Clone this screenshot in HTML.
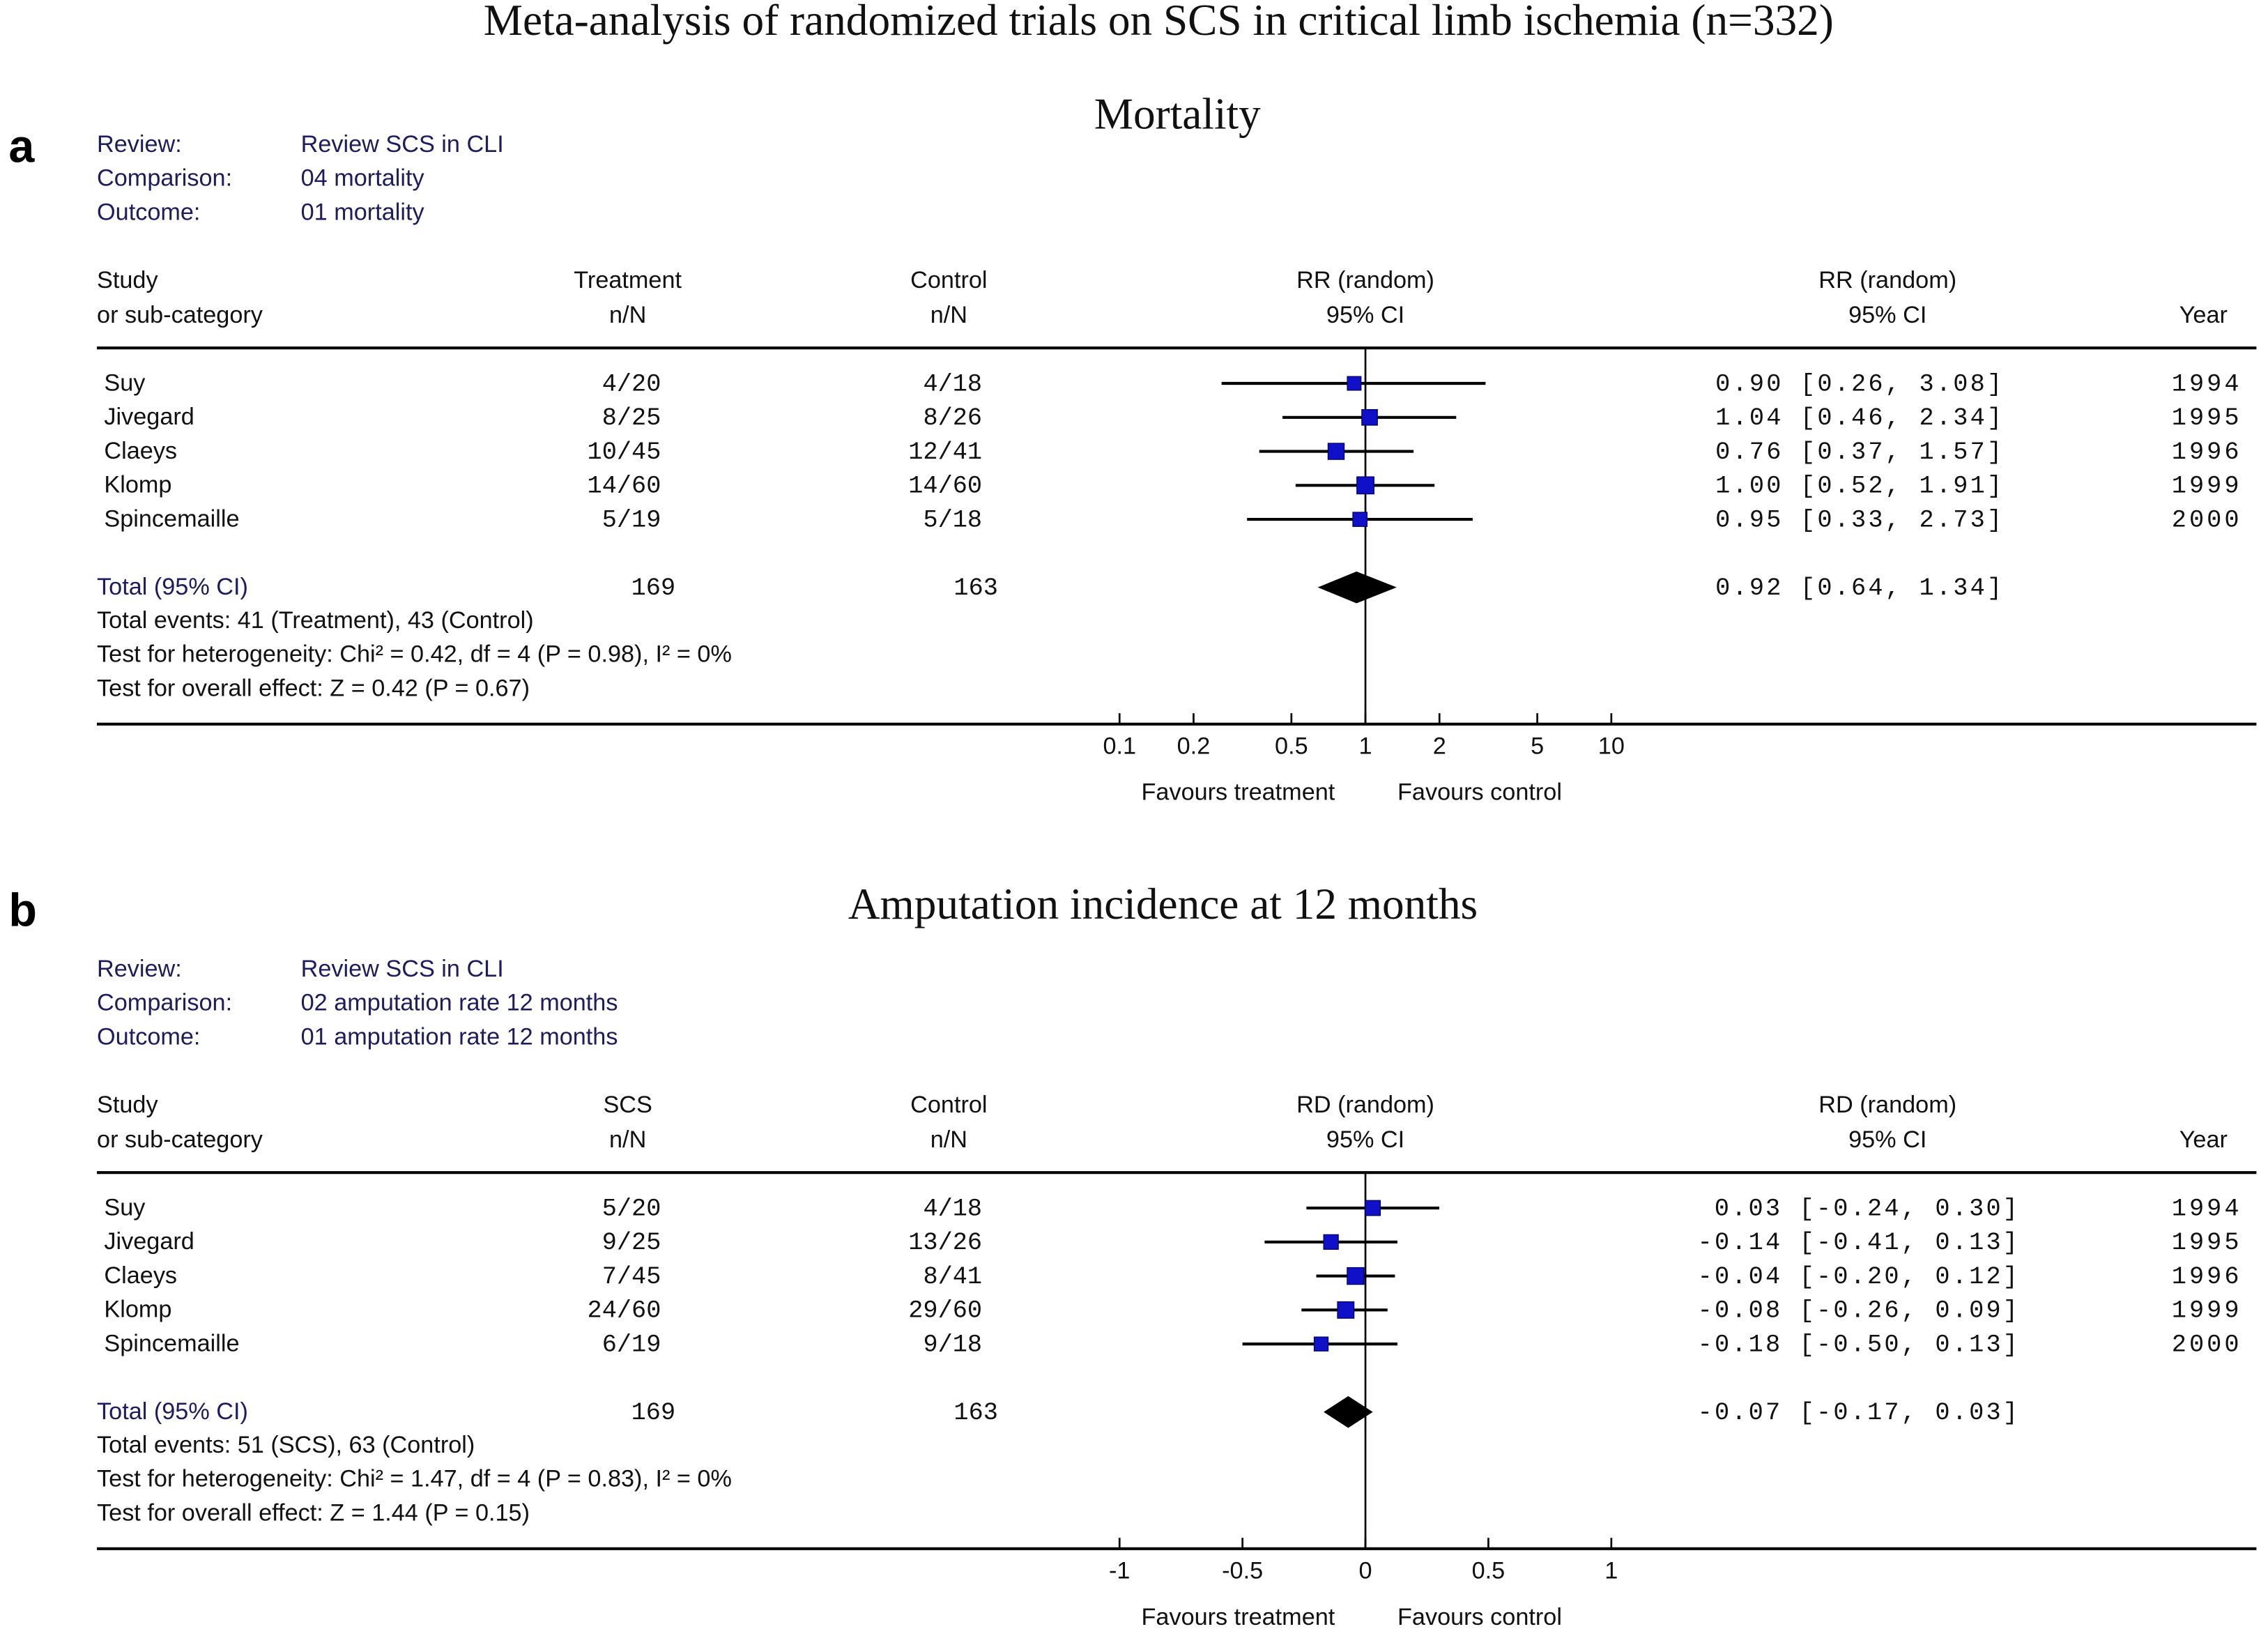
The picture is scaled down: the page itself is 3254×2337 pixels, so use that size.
<!DOCTYPE html>
<html><head><meta charset="utf-8">
<style>
html,body{margin:0;padding:0;background:#fff;}
svg{display:block;}
.s{font-family:"Liberation Sans",sans-serif;font-size:16.5px;fill:#111;}
.n{fill:#1c1c5e;}
.m{font-family:"Liberation Mono",monospace;font-size:17px;fill:#111;}
.t{font-family:"Liberation Serif",serif;font-size:30.5px;fill:#111;}
</style></head>
<body>
<svg id="chart" width="3254" height="2337" viewBox="0 0 1568 1126" preserveAspectRatio="none" xmlns="http://www.w3.org/2000/svg">
<text class="t" x="801" y="24" text-anchor="middle">Meta-analysis of randomized trials on SCS in critical limb ischemia (n=332)</text>
<g id="panels"></g>
</svg>
<script>
// Panel a: mortality (RR, log scale)
const studies = ["Suy","Jivegard","Claeys","Klomp","Spincemaille"];
const years = ["1994","1995","1996","1999","2000"];
const aTreat = ["4/20","8/25","10/45","14/60","5/19"];
const aCtrl = ["4/18","8/26","12/41","14/60","5/18"];
const aEst = [0.90,1.04,0.76,1.00,0.95];
const aLo = [0.26,0.46,0.37,0.52,0.33];
const aHi = [3.08,2.34,1.57,1.91,2.73];
const aWeight = [10,19,22,28,12];
const aTotal = [0.92,0.64,1.34];
const aTicks = [0.1,0.2,0.5,1,2,5,10];
const aTickLabels = ["0.1","0.2","0.5","1","2","5","10"];
// Panel b: amputation (RD, linear)
const bTreat = ["5/20","9/25","7/45","24/60","6/19"];
const bCtrl = ["4/18","13/26","8/41","29/60","9/18"];
const bEst = [0.03,-0.14,-0.04,-0.08,-0.18];
const bLo = [-0.24,-0.41,-0.20,-0.26,-0.50];
const bHi = [0.30,0.13,0.12,0.09,0.13];
const bWeight = [16,14,26,24,11];
const bTotal = [-0.07,-0.17,0.03];
const bTicks = [-1,-0.5,0,0.5,1];
const bTickLabels = ["-1","-0.5","0","0.5","1"];

const NS="http://www.w3.org/2000/svg";
const root=document.getElementById('panels');
function mk(tag,attrs,parent,txt){const e=document.createElementNS(NS,tag);for(const k in attrs)e.setAttribute(k,attrs[k]);if(txt!==undefined)e.textContent=txt;(parent||root).appendChild(e);return e;}
function fmt(v){return (v<0?"-":"")+Math.abs(v).toFixed(2);}
function ciStr(e,l,h){return fmt(e)+" ["+fmt(l)+", "+fmt(h)+"]";}
const CW=11.65;

function panel(o){
  const g=mk('g',{});
  
  
  const oy=o.oy;
  let e;
  e=mk('text',{x:6,y:o.letterY,'font-family':'Liberation Sans,sans-serif','font-size':32,'font-weight':'bold',fill:'#000'},g,o.letter);
  
  e=mk('text',{class:'t',x:o.titleX,y:o.titleY,'text-anchor':'middle'},g,o.title);
  
  const info=[["Review:","Review SCS in CLI"],["Comparison:",o.comp],["Outcome:",o.outc]];
  info.forEach((r,i)=>{
    e=mk('text',{class:'s n',x:67,y:105+oy+i*23.5},g,r[0]);
    e=mk('text',{class:'s n',x:208,y:105+oy+i*23.5},g,r[1]);
  });
  const hdr=[[67,'start',"Study","or sub-category"],[434,'middle',o.tLab,"n/N"],[656,'middle',"Control","n/N"],[944,'middle',o.meas+" (random)","95% CI"],[1305,'middle',o.meas+" (random)","95% CI"]];
  hdr.forEach(h=>{
    e=mk('text',{class:'s',x:h[0],y:199+oy,'text-anchor':h[1]},g,h[2]);
    e=mk('text',{class:'s',x:h[0],y:223+oy,'text-anchor':h[1]},g,h[3]);
  });
  e=mk('text',{class:'s',x:1540,y:223+oy,'text-anchor':'end'},g,"Year");
  e=mk('line',{x1:67,x2:1560,y1:240.5+oy,y2:240.5+oy,stroke:'#000','stroke-width':2},g);
  e=mk('line',{x1:67,x2:1560,y1:500.5+oy,y2:500.5+oy,stroke:'#000','stroke-width':2},g);
  const x0=o.sx(o.nullV);
  e=mk('line',{x1:x0,x2:x0,y1:240+oy,y2:500+oy,stroke:'#000','stroke-width':1.3},g);
  o.ticks.forEach((t,i)=>{
    const x=o.sx(t);
    e=mk('line',{x1:x,x2:x,y1:493+oy,y2:500+oy,stroke:'#000','stroke-width':1.3},g);
    e=mk('text',{class:'s',x:x,y:521+oy,'text-anchor':'middle'},g,o.tickLabels[i]);
  });
  e=mk('text',{class:'s',x:856,y:553+oy,'text-anchor':'middle'},g,"Favours treatment");
  e=mk('text',{class:'s',x:1023,y:553+oy,'text-anchor':'middle'},g,"Favours control");
  studies.forEach((s,i)=>{
    const y=270+oy+i*23.5;
    e=mk('text',{class:'s',x:72,y:y},g,s);
    e=mk('text',{class:'m',x:457,y:y,'text-anchor':'end'},g,o.treat[i]);
    e=mk('text',{class:'m',x:679,y:y,'text-anchor':'end'},g,o.ctrl[i]);
    const str=ciStr(o.est[i],o.lo[i],o.hi[i]);
    e=mk('text',{class:'m',x:o.ciEnd,y:y,'text-anchor':'end',textLength:str.length*CW,lengthAdjust:'spacing'},g,str);
    e=mk('text',{class:'m',x:1548,y:y,'text-anchor':'end',textLength:4*CW,lengthAdjust:'spacing'},g,years[i]);
    const cy=y-5;
    e=mk('line',{x1:o.sx(o.lo[i]),x2:o.sx(o.hi[i]),y1:cy,y2:cy,stroke:'#000','stroke-width':2},g);
    const sz=6+Math.sqrt(o.w[i])*1.1;
    e=mk('rect',{x:o.sx(o.est[i])-sz/2,y:cy-sz/2,width:sz,height:sz,fill:'#1010c8',stroke:'#000060','stroke-width':0.6},g);
  });
  const ty=411+oy;
  e=mk('text',{class:'s n',x:67,y:ty},g,"Total (95% CI)");
  e=mk('text',{class:'m n',x:467,y:ty,'text-anchor':'end'},g,"169");
  e=mk('text',{class:'m n',x:690,y:ty,'text-anchor':'end'},g,"163");
  const ts=ciStr(o.total[0],o.total[1],o.total[2]);
  e=mk('text',{class:'m n',x:o.ciEnd,y:ty,'text-anchor':'end',textLength:ts.length*CW,lengthAdjust:'spacing'},g,ts);
  const dy=ty-5,xl=o.sx(o.total[1]),xr=o.sx(o.total[2]),xc=o.sx(o.total[0]);
  e=mk('polygon',{points:`${xl},${dy} ${xc},${dy-11} ${xr},${dy} ${xc},${dy+11}`,fill:'#000'},g);
  o.lines.forEach((l,i)=>{
    e=mk('text',{class:'s',x:67,y:434+oy+i*23.5},g,l);
  });
}
panel({name:'panel-a-mortality',oy:0,letter:'a',letterY:112,title:'Mortality',titleX:814,titleY:89,comp:'04 mortality',outc:'01 mortality',tLab:'Treatment',meas:'RR',
  sx:v=>944+170*Math.log10(v),nullV:1,ticks:aTicks,tickLabels:aTickLabels,treat:aTreat,ctrl:aCtrl,est:aEst,lo:aLo,hi:aHi,w:aWeight,total:aTotal,ciEnd:1384,
  lines:["Total events: 41 (Treatment), 43 (Control)","Test for heterogeneity: Chi² = 0.42, df = 4 (P = 0.98), I² = 0%","Test for overall effect: Z = 0.42 (P = 0.67)"]});
panel({name:'panel-b-amputation',oy:570,letter:'b',letterY:640,title:'Amputation incidence at 12 months',titleX:804,titleY:635,comp:'02 amputation rate 12 months',outc:'01 amputation rate 12 months',tLab:'SCS',meas:'RD',
  sx:v=>944+170*v,nullV:0,ticks:bTicks,tickLabels:bTickLabels,treat:bTreat,ctrl:bCtrl,est:bEst,lo:bLo,hi:bHi,w:bWeight,total:bTotal,ciEnd:1395,
  lines:["Total events: 51 (SCS), 63 (Control)","Test for heterogeneity: Chi² = 1.47, df = 4 (P = 0.83), I² = 0%","Test for overall effect: Z = 1.44 (P = 0.15)"]});
</script>
</body></html>
